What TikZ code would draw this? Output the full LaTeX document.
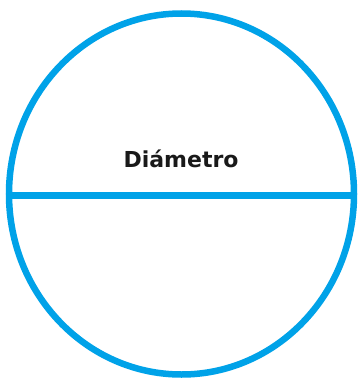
\documentclass[tikz,border=0pt]{standalone}
\usepackage{fontspec}
\setmainfont{DejaVu Sans}
\definecolor{paintblue}{RGB}{0,162,232}
\begin{document}
\begin{tikzpicture}[x=1pt,y=-1pt,
  ring/.style={draw=paintblue,line width=6.5pt},
  lbl/.style={font=\bfseries\fontsize{22}{26}\selectfont,text=black!90,inner sep=0pt}]
\useasboundingbox (0,0) rectangle (361,380);
\coordinate (c) at (181.5,194);
\draw[ring] (c) ellipse [x radius=172.5, y radius=180.5];
\coordinate (l) at (9,195);
\coordinate (r) at (354,195);
\draw[draw=paintblue,line width=7pt] (l) -- (r);
\node[lbl,anchor=base] (t) at (181,167) {Diámetro};
\end{tikzpicture}
\end{document}
